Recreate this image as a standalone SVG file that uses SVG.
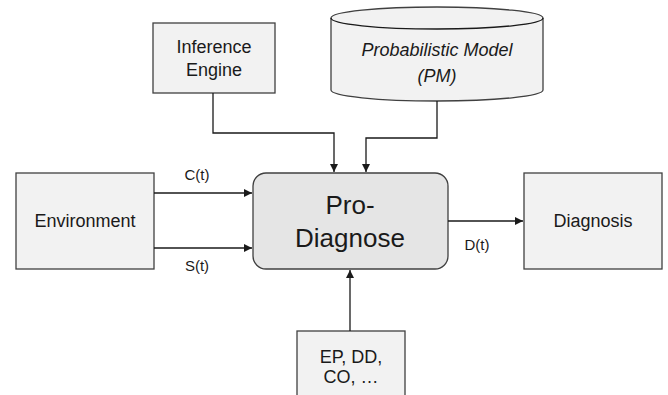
<svg xmlns="http://www.w3.org/2000/svg" width="668" height="395" viewBox="0 0 668 395">
<style>
.box{fill:#f2f2f2;stroke:#404040;stroke-width:1.3}
.core{fill:#e5e5e5;stroke:#404040;stroke-width:1.3}
.t{font-family:"Liberation Sans",Arial,sans-serif;font-size:18px;fill:#1a1a1a;text-anchor:middle}
.lbl{font-family:"Liberation Sans",Arial,sans-serif;font-size:15px;fill:#1a1a1a;text-anchor:middle}
.big{font-family:"Liberation Sans",Arial,sans-serif;font-size:26px;fill:#1a1a1a;text-anchor:middle}
.c{fill:none;stroke:#1a1a1a;stroke-width:1.3}
</style>
<defs>
<marker id="arr" viewBox="0 0 10 10" refX="10" refY="5" markerWidth="8" markerHeight="8" markerUnits="userSpaceOnUse" orient="auto">
<path d="M0,0 L10,5 L0,10 z" fill="#1a1a1a"/>
</marker>
</defs>
<rect width="668" height="395" fill="#ffffff"/>
<g id="inference-engine">
<rect class="box" x="153" y="23" width="122" height="70"/>
<text class="t" x="214" y="53">Inference</text>
<text class="t" x="214" y="76">Engine</text>
</g>
<g id="probabilistic-model">
<path class="box" d="M331,18 A106,11 0 0 1 543,18 L543,90 A106,11 0 0 1 331,90 Z"/>
<path class="c" d="M331,18 A106,11 0 0 0 543,18" stroke="#404040"/>
<text class="t" x="437" y="56" font-style="italic">Probabilistic Model</text>
<text class="t" x="437" y="82" font-style="italic">(PM)</text>
</g>
<g id="environment">
<rect class="box" x="16" y="173" width="138" height="96"/>
<text class="t" x="85" y="227">Environment</text>
</g>
<g id="pro-diagnose">
<rect class="core" x="253" y="173" width="195" height="96" rx="13" ry="13"/>
<text class="big" x="350" y="214">Pro-</text>
<text class="big" x="350" y="247">Diagnose</text>
</g>
<g id="diagnosis">
<rect class="box" x="524" y="173" width="138" height="96"/>
<text class="t" x="593" y="227">Diagnosis</text>
</g>
<g id="ep-dd-co">
<rect class="box" x="297" y="331" width="108" height="80"/>
<text class="t" x="351" y="363">EP, DD,</text>
<text class="t" x="351" y="383">CO, …</text>
</g>
<g id="connectors">
<path class="c" d="M213,93 V133 H334 V172" marker-end="url(#arr)"/>
<path class="c" d="M437,101 V138 H366 V172" marker-end="url(#arr)"/>
<path class="c" d="M154,193 H252" marker-end="url(#arr)"/>
<path class="c" d="M154,248 H252" marker-end="url(#arr)"/>
<path class="c" d="M448,221 H523" marker-end="url(#arr)"/>
<path class="c" d="M350,331 V270" marker-end="url(#arr)"/>
<text class="lbl" x="197" y="180">C(t)</text>
<text class="lbl" x="197" y="271">S(t)</text>
<text class="lbl" x="477" y="250">D(t)</text>
</g>
</svg>
